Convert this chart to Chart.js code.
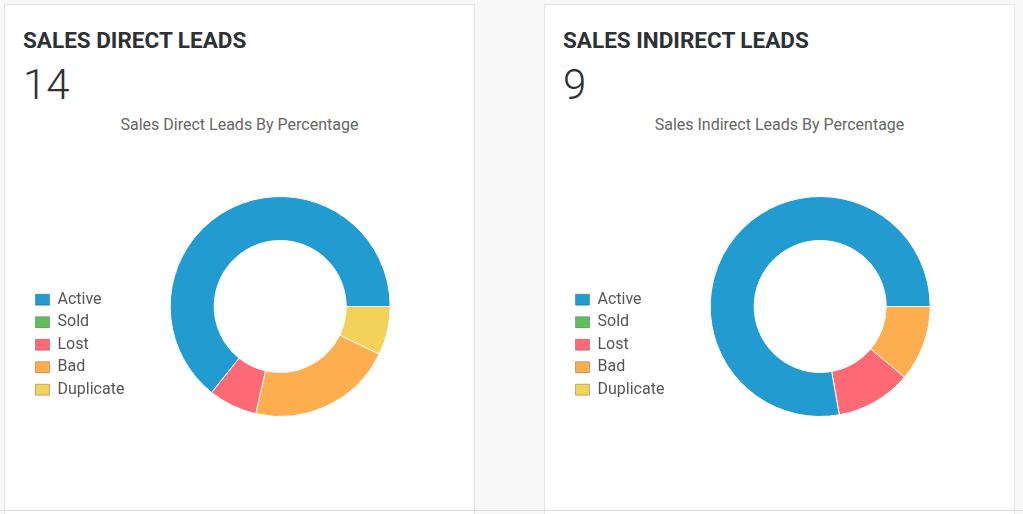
<!DOCTYPE html>
<html>
<head>
<meta charset="utf-8">
<script src="https://cdn.jsdelivr.net/npm/chart.js@4.4.1/dist/chart.umd.min.js"></script>
<style>
  html, body { margin: 0; padding: 0; }
  body { width: 1023px; height: 514px; background: #f8f8f9; font-family: Roboto, sans-serif; position: relative; overflow: hidden; }
  .card { position: absolute; top: 4px; width: 469px; height: 520px; background: #fff; border: 1px solid #e2e2e7; }
  .card h2 { position: absolute; left: 18px; top: 24px; margin: 0; font-size: 22.5px; line-height: 22.5px; font-weight: 700; color: #2e3134; }
  .card .count { position: absolute; left: 18px; top: 59px; font-size: 42px; line-height: 42px; font-weight: 300; color: #2e3134; }
  .card .subtitle { position: absolute; left: 0; width: 469px; top: 112px; text-align: center; font-size: 16px; line-height: 16px; color: #666; }
  .card .chart { position: absolute; left: 0; top: 105px; width: 469px; height: 320px; }
  .bottom-line { position: absolute; left: 0; top: 510px; width: 1023px; height: 1px; background: #dcdce0; }
</style>
</head>
<body>
<div class="card" style="left:4px">
  <h2>SALES DIRECT LEADS</h2>
  <div class="count" id="direct-count"></div>
  <div class="subtitle">Sales Direct Leads By Percentage</div>
  <div class="chart"><canvas id="direct-chart"></canvas></div>
</div>
<div class="card" style="left:544px">
  <h2>SALES INDIRECT LEADS</h2>
  <div class="count" id="indirect-count"></div>
  <div class="subtitle">Sales Indirect Leads By Percentage</div>
  <div class="chart"><canvas id="indirect-chart"></canvas></div>
</div>
<div class="bottom-line"></div>
<script>
// Lead categories and counts per card
const categories = ['Active', 'Sold', 'Lost', 'Bad', 'Duplicate'];
const directValues = [9, 0, 1, 3, 1];
const indirectValues = [7, 0, 1, 1, 0];
const sliceColors = ['#229bd0', '#5cc15c', '#fd6a76', '#fead4f', '#f3d25a'];

// Draw one doughnut card. Slices run counter-clockwise from 3 o'clock in the
// reference, so the data goes in reversed and the legend is flipped back.
function drawDoughnut(canvasId, countId, values) {
  document.getElementById(countId).textContent = values.reduce((a, b) => a + b, 0);

  const ctx = document.getElementById(canvasId).getContext('2d');
  return new Chart(ctx, {
    type: 'doughnut',
    data: {
      labels: categories.slice().reverse(),
      datasets: [{
        data: values.slice().reverse(),
        backgroundColor: sliceColors.slice().reverse(),
        borderColor: '#fff',
        borderWidth: 1,
      }]
    },
    options: {
      responsive: true,
      maintainAspectRatio: false,
      animation: false,
      rotation: 90,
      cutout: '60%',
      layout: { padding: { left: 24, right: 48, top: 86, bottom: 13 } },
      plugins: {
        title: { display: false },
        legend: {
          position: 'left',
          reverse: true,
          // blank title only pushes the items down, as in the reference
          title: { display: true, text: ' ', padding: { top: 62, bottom: 0 } },
          labels: {
            boxWidth: 14,
            boxHeight: 11,
            padding: 6.5,
            color: '#555',
            font: { family: 'Roboto', size: 16 },
            generateLabels(chart) {
              const items = Chart.overrides.doughnut.plugins.legend.labels.generateLabels(chart);
              items.forEach(item => {
                item.strokeStyle = 'rgba(0,0,0,0.25)';
                item.lineWidth = 1;
              });
              return items;
            }
          }
        },
        tooltip: { enabled: false }
      }
    }
  });
}

drawDoughnut('direct-chart', 'direct-count', directValues);
drawDoughnut('indirect-chart', 'indirect-count', indirectValues);
</script>
</body>
</html>
